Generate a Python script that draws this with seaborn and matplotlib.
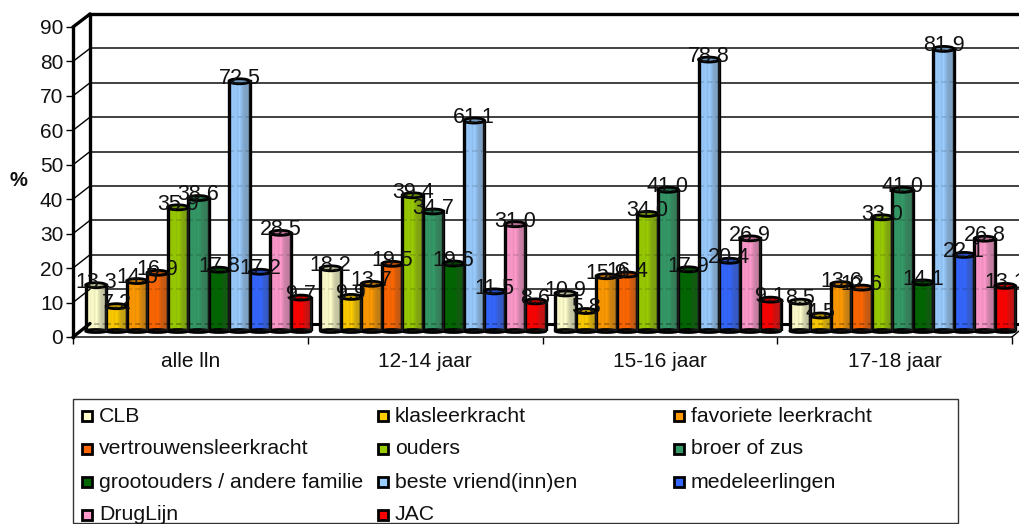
import numpy as np
import pandas as pd
import seaborn as sns
import matplotlib.pyplot as plt
from matplotlib.patches import Ellipse, Rectangle

W, H = 1019, 524

groups = ['alle lln', '12-14 jaar', '15-16 jaar', '17-18 jaar']
series = ['CLB', 'klasleerkracht', 'favoriete leerkracht', 'vertrouwensleerkracht', 'ouders',
          'broer of zus', 'grootouders / andere familie', 'beste vriend(inn)en', 'medeleerlingen',
          'DrugLijn', 'JAC']
colors = ['#FFFFCC', '#FFCC00', '#FF9900', '#FF6600', '#99CC00', '#339966', '#006600',
          '#99CCFF', '#3366FF', '#FF99CC', '#FF0000']
alle_lln = [13.3, 7.2, 14.5, 16.9, 35.9, 38.6, 17.8, 72.5, 17.2, 28.5, 9.7]
jaar_12_14 = [18.2, 9.9, 13.7, 19.5, 39.4, 34.7, 19.6, 61.1, 11.5, 31.0, 8.6]
jaar_15_16 = [10.9, 5.8, 15.9, 16.4, 34.0, 41.0, 17.9, 78.8, 20.4, 26.9, 9.1]
jaar_17_18 = [8.5, 4.5, 13.6, 12.6, 33.0, 41.0, 14.1, 81.9, 22.1, 26.8, 13.1]
y_ticks = [0, 10, 20, 30, 40, 50, 60, 70, 80, 90]

rows = []
for g, vals in zip(groups, [alle_lln, jaar_12_14, jaar_15_16, jaar_17_18]):
    for s, v in zip(series, vals):
        rows.append({'groep': g, 'reeks': s, 'pct': v})
df = pd.DataFrame(rows)

sns.set_theme(style='white')
plt.rcParams['font.family'] = ['Liberation Sans', 'DejaVu Sans']


def px_axes(fig, x0, y_top, x1, y_bot):
    # axes placed by pixel box, y measured from the top of the picture
    return fig.add_axes([x0 / W, 1 - y_bot / H, (x1 - x0) / W, (y_bot - y_top) / H])


fig = plt.figure(figsize=(W / 100, H / 100), dpi=100)

# back wall with the gridlines
back = px_axes(fig, 90, 14, 1030, 323.5)
back.set_ylim(0, 90)
back.set_xlim(0, 1)
back.set_yticks(y_ticks)
back.set_xticks([])
back.tick_params(left=False, labelleft=False)
back.grid(axis='y', color='#333333', lw=1.3)
back.set_axisbelow(True)
for s in ['right', 'bottom']:
    back.spines[s].set_visible(False)
for s in ['top', 'left']:
    back.spines[s].set_linewidth(2.4)
    back.spines[s].set_color('black')
back.plot([0, 1], [0, 0], color='black', lw=2.2, clip_on=False, zorder=1)

# front axis with the tick labels
front = px_axes(fig, 73, 27, 1012, 337)
front.patch.set_alpha(0)
front.set_ylim(0, 90)
front.set_xlim(0, 4)
front.set_yticks(y_ticks)
front.set_yticklabels([str(t) for t in y_ticks], fontsize=15, color='#111111')
front.set_xticks(range(5))
front.set_xticklabels([])
front.tick_params(axis='y', left=True, length=5, width=1, pad=2, color='black')
front.tick_params(axis='x', bottom=True, length=5, width=1, direction='out', color='black')
for s in ['top', 'right']:
    front.spines[s].set_visible(False)
front.spines['left'].set_linewidth(2.4)
front.spines['left'].set_color('black')
front.spines['bottom'].set_linewidth(1.2)
front.spines['bottom'].set_color('#222222')
fig.text(18 / W, 1 - 181 / H, '%', ha='center', va='center', fontsize=14.5, fontweight='bold', color='#111111')
for i, g in enumerate(groups):
    front.text(i + 0.5, -7, g, ha='center', va='center', fontsize=15, color='#111111')

# depth lines joining the front axis to the back wall
for t in y_ticks:
    y_f = 337 - t * (310 / 90)
    y_b = 323.5 - t * (309.5 / 90)
    lw = 2.4 if t in (0, 90) else 1
    fig.add_artist(plt.Line2D([73 / W, 90 / W], [1 - y_f / H, 1 - y_b / H], color='black', lw=lw))
fig.add_artist(plt.Line2D([1012 / W, 1019 / W], [1 - 337 / H, 1 - 331 / H], color='black', lw=1))

# bars
ax = px_axes(fig, 81, 21, 1020, 331)
ax.patch.set_alpha(0)
sns.barplot(data=df, x='groep', y='pct', hue='reeks', hue_order=series, palette=colors,
            saturation=1, width=0.96, edgecolor='black', linewidth=2.4, legend=False, ax=ax)
ax.set_ylim(0, 90)
ax.set_xlim(-0.5, 3.5)
ax.axis('off')

# black alpha across the cylinder, the right third goes greyer
shade_alpha = [0.10, 0.0, 0.08, 0.02, 0.10, 0.0, 0.12, 0.24, 0.30, 0.30, 0.36]
cap = 5 / (310 / 90)
wall_shift = 7.5 / (310 / 90)
bars = [p for p in ax.patches if p.get_height() > 0]
for p in bars:
    x, w, h = p.get_x(), p.get_width(), p.get_height()
    c = p.get_facecolor()
    shade = np.zeros((1, len(shade_alpha), 4))
    shade[..., :3] = 0.25
    shade[..., 3] = shade_alpha
    im = ax.imshow(shade, extent=[x, x + w, 0, h], aspect='auto', interpolation='bilinear', zorder=3)
    im.set_clip_path(p)
    # wall gridlines show faintly through the bar
    for t in y_ticks:
        yv = t + wall_shift
        if yv < h:
            ax.plot([x, x + w], [yv, yv], color='black', lw=1.2, alpha=0.3 if t == 0 else 0.14,
                    ls=(0, (3, 2)), zorder=3.5)
    dark = tuple(np.array(c[:3]) * 0.72)
    ax.add_patch(Ellipse((x + w / 2, h), w, cap, facecolor=dark, edgecolor='black', lw=2, zorder=4))
    ax.add_patch(Ellipse((x + w / 2, 0), w, cap * 0.6, facecolor=tuple(np.array(c[:3]) * 0.8), edgecolor='black',
                         lw=2, zorder=2, clip_on=False))
    ax.text(x + w / 2, h + 0.9, f'{h:.1f}', ha='center', va='center', fontsize=15.5, color='#111111',
            zorder=6, clip_on=False)
ax.set_ylim(0, 90)
ax.set_xlim(-0.5, 3.5)

# legend frame and entries, columns are equally wide
fig.add_artist(Rectangle((73 / W, 1 - 523 / H), (958 - 73) / W, (523 - 399) / H, transform=fig.transFigure,
                         facecolor='white', edgecolor='#333333', lw=1))
for i, (name, col) in enumerate(zip(series, colors)):
    r, k = divmod(i, 3)
    lx = 87 + k * 296
    ly = 416 + r * 33
    fig.add_artist(Rectangle(((lx - 5) / W, 1 - (ly + 5) / H), 10 / W, 10 / H, transform=fig.transFigure,
                             facecolor=col, edgecolor='black', lw=2))
    fig.text((lx + 12) / W, 1 - ly / H, name, ha='left', va='center', fontsize=15.3, color='#111111')

fig.savefig('out.png', dpi=100)
